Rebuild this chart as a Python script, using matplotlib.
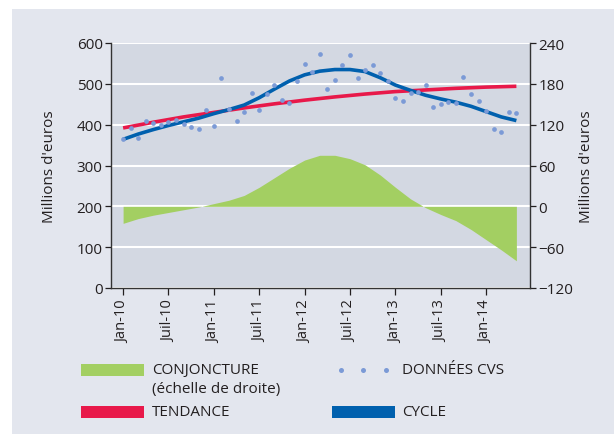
import matplotlib
matplotlib.use('Agg')
import matplotlib.pyplot as plt
from matplotlib.patches import Rectangle
from matplotlib.lines import Line2D

plt.rcParams['font.family'] = ['Open Sans', 'DejaVu Sans']

# ---------------- data ----------------
tick_months = [0, 6, 12, 18, 24, 30, 36, 42, 48]
tick_labels = ['Jan-10', 'Juil-10', 'Jan-11', 'Juil-11', 'Jan-12',
               'Juil-12', 'Jan-13', 'Juil-13', 'Jan-14']

cvs_values = [364, 393, 367, 409, 403, 398, 407, 411, 402, 394,
              389, 437, 396, 514, 438, 408, 432, 477, 436, 475,
              496, 461, 454, 506, 549, 528, 572, 488, 510, 547,
              571, 514, 535, 545, 527, 506, 466, 459, 477, 480,
              498, 443, 450, 456, 454, 516, 474, 457, 434, 389,
              382, 430, 428]

cycle_months = list(range(0, 53, 2))
cycle_values = [364, 377, 388, 398, 407, 416, 427, 437, 448, 466,
                487, 507, 522, 531, 535, 535, 530, 515, 497, 484,
                472, 463, 455, 445, 432, 419, 410]

trend_months = list(range(0, 53, 4))
trend_values = [392, 406, 419, 430, 441, 451, 460, 468, 475, 481,
                485, 489, 492, 494]

conj_months = list(range(0, 53, 2))
conj_values = [-25, -18, -13, -9, -5, -1, 4, 9, 16, 28,
               42, 56, 68, 75, 75, 70, 61, 46, 28, 11,
               -2, -12, -21, -34, -49, -64, -80]

# ---------------- style ----------------
W, H = 614, 435
BG = '#e3e6ee'
PLOT_BG = '#d3d8e2'
GREEN = '#a3cf62'
RED = '#e8194a'
BLUE = '#0060ae'
DOT = '#7b9ad6'
TXT = '#231f20'

fig = plt.figure(figsize=(W / 100, H / 100), dpi=100, facecolor='white')
fig.add_artist(Rectangle((12 / W, 0), 1 - 12 / W, 1 - 10 / H,
                         transform=fig.transFigure, facecolor=BG,
                         edgecolor='none', zorder=-10))

def fx(px):
    return px / W

def fy(py):
    return 1 - py / H

ax_l, ax_r, ax_t, ax_b = 111, 530, 44, 289
ax2 = fig.add_axes([fx(ax_l), fy(ax_b), fx(ax_r - ax_l), (ax_b - ax_t) / H])
ax = ax2.twinx()
# ax2 (conjoncture, right scale) is the lower layer; ax (left scale) on top
ax2.yaxis.tick_right()
ax2.yaxis.set_label_position('right')
ax.yaxis.tick_left()
ax.yaxis.set_label_position('left')
ax.set_zorder(ax2.get_zorder() + 1)
ax.patch.set_visible(False)
ax2.set_facecolor(PLOT_BG)

# right scale
ax2.set_ylim(-120, 240)
ax2.set_yticks([-120, -60, 0, 60, 120, 180, 240])
ax2.grid(axis='y', color='white', lw=1.5, zorder=0)
ax2.set_axisbelow(True)
ax2.fill_between(conj_months, 0, conj_values, color=GREEN, lw=0, zorder=2)

# left scale
ax.set_ylim(0, 600)
ax.set_yticks([0, 100, 200, 300, 400, 500, 600])
ax.plot(trend_months, trend_values, color=RED, lw=2.6, solid_capstyle='butt', zorder=3)
ax.plot(cycle_months, cycle_values, color=BLUE, lw=2.6, solid_capstyle='butt', zorder=4)
ax.plot(range(len(cvs_values)), cvs_values, ls='none', marker='o', ms=3.4,
        mfc=DOT, mec='none', zorder=5)

for a in (ax, ax2):
    a.set_xlim(-1.6, 53.8)
    a.tick_params(axis='y', labelsize=11, colors=TXT, length=4, width=0.9, pad=2)
    for s in a.spines.values():
        s.set_visible(False)

ax2.set_xticks(tick_months)
ax2.set_xticklabels(tick_labels, rotation=90, fontsize=10.5, color=TXT)
ax2.tick_params(axis='x', length=5, width=0.9, colors=TXT, pad=3,
                bottom=True, labelbottom=True)

ax.spines['left'].set_visible(True)
ax2.spines['bottom'].set_visible(True)
ax2.spines['right'].set_visible(True)
for s in (ax.spines['left'], ax2.spines['bottom'], ax2.spines['right']):
    s.set_color('#333333')
    s.set_linewidth(1.0)

ax.set_ylabel("Millions d'euros", fontsize=11, color=TXT, labelpad=14)
ax2.set_ylabel("Millions d'euros", fontsize=11, color=TXT, labelpad=4)

# ---------------- legend ----------------
def patch(x0, x1, y0, y1, c):
    fig.add_artist(Rectangle((fx(x0), fy(y1)), fx(x1 - x0), (y1 - y0) / H,
                             transform=fig.transFigure, facecolor=c, edgecolor='none'))

patch(81, 144, 365, 377, GREEN)
patch(81, 144, 407, 419, RED)
patch(332, 395, 407, 419, BLUE)
for xd in (341, 363, 386):
    fig.add_artist(Line2D([fx(xd)], [fy(370.5)], transform=fig.transFigure,
                          ls='none', marker='o', ms=3.6, mfc=DOT, mec='none'))

kw = dict(fontsize=11, color=TXT, va='center', ha='left')
fig.text(fx(152), fy(371), 'CONJONCTURE', **kw)
fig.text(fx(152), fy(390), '(échelle de droite)', **kw)
fig.text(fx(152), fy(413), 'TENDANCE', **kw)
fig.text(fx(402), fy(371), 'DONNÉES CVS', **kw)
fig.text(fx(402), fy(413), 'CYCLE', **kw)

fig.savefig('out.png', dpi=100, facecolor='white')
